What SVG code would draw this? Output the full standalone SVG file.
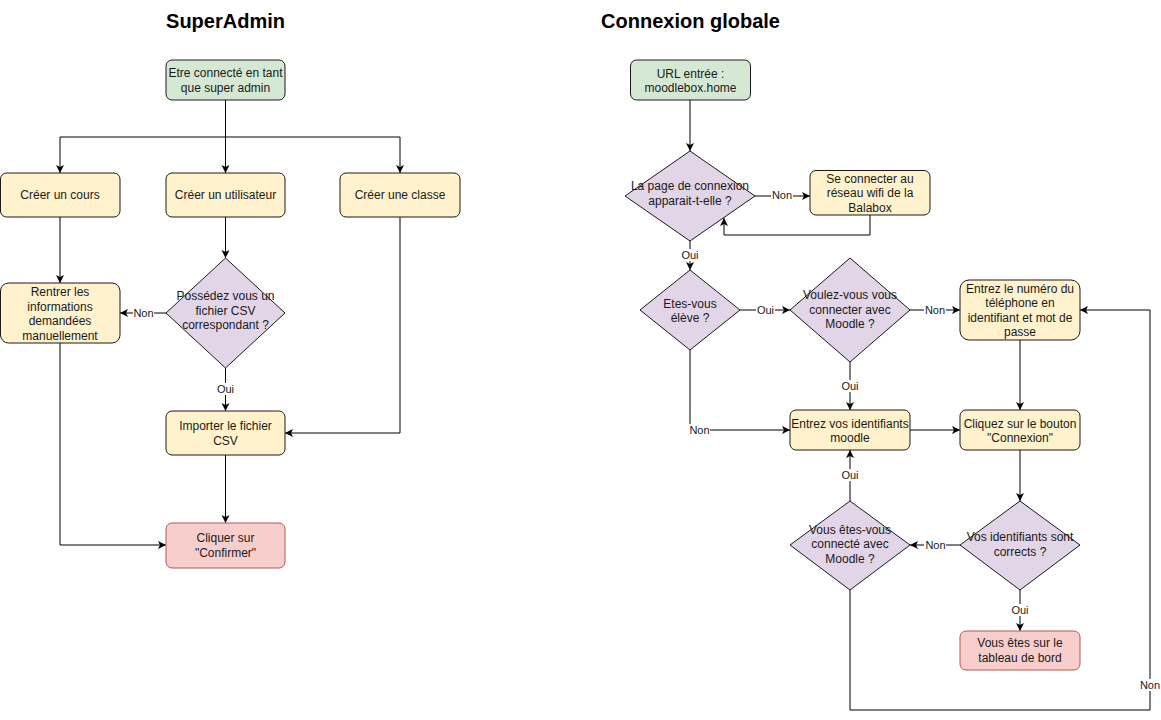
<svg xmlns="http://www.w3.org/2000/svg" width="1161" height="720" viewBox="0 0 1161 720">
<style>
text{font-family:"Liberation Sans",Arial,Helvetica,sans-serif;fill:#1a1a1a}
.t{font-size:12px;text-anchor:middle}
.title{font-size:20px;font-weight:bold;text-anchor:middle;fill:#000}
.lbl{font-size:11px;text-anchor:middle}
.lb{fill:#fff}
.green{fill:#d5e8d4;stroke:#1a1a1a;stroke-width:1}
.yel{fill:#fff2cc;stroke:#1a1a1a;stroke-width:1}
.pur{fill:#e1d5e7;stroke:#1a1a1a;stroke-width:1}
.red{fill:#f8cecc;stroke:#b85450;stroke-width:1}
.e{fill:none;stroke:#000;stroke-width:1;marker-end:url(#arr)}
.n{fill:none;stroke:#000;stroke-width:1}
</style>
<defs>
<marker id="arr" markerUnits="userSpaceOnUse" markerWidth="10" markerHeight="10" refX="8" refY="4" orient="auto">
<path d="M0,0 L8,4 L0,8 L2,4 Z" fill="#000"/>
</marker>
</defs>
<rect width="1161" height="720" fill="#fff"/>
<text class="title" x="225.5" y="28">SuperAdmin</text>
<text class="title" x="690.5" y="28">Connexion globale</text>

<g id="connectors">
<!-- left -->
<path class="n" d="M225.5,100 V137"/>
<path class="e" d="M225.5,137 H60 V173"/>
<path class="e" d="M225.5,137 V173"/>
<path class="e" d="M225.5,137 H400 V173"/>
<path class="e" d="M60,217 V283"/>
<path class="e" d="M225.5,217 V258"/>
<path class="e" d="M166,313 H120"/>
<path class="e" d="M225.5,368 V411"/>
<path class="e" d="M400,217 V433 H285"/>
<path class="e" d="M225.5,455 V523"/>
<path class="e" d="M60,343 V545 H166"/>
<!-- right -->
<path class="e" d="M690,100 V151"/>
<path class="e" d="M755,196 H810"/>
<path class="e" d="M870,215 V235 H724 V218"/>
<path class="e" d="M690,241 V270"/>
<path class="e" d="M740,310 H790"/>
<path class="e" d="M910,310 H960"/>
<path class="e" d="M690,350 V430 H790"/>
<path class="e" d="M850,362 V410"/>
<path class="e" d="M910,430 H960"/>
<path class="e" d="M1020,340 V410"/>
<path class="e" d="M1020,450 V501"/>
<path class="e" d="M960,545 H910"/>
<path class="e" d="M1020,590 V631"/>
<path class="e" d="M850,501 V450"/>
<path class="e" d="M850,590 V710 H1150 V310 H1080"/>
<!-- labels -->
<rect class="lb" x="133" y="307" width="21" height="12"/><text class="lbl" x="143.5" y="317">Non</text>
<rect class="lb" x="216" y="383" width="19" height="12"/><text class="lbl" x="225.5" y="393">Oui</text>
<rect class="lb" x="771" y="190" width="22" height="12"/><text class="lbl" x="782" y="199">Non</text>
<rect class="lb" x="681" y="249" width="19" height="12"/><text class="lbl" x="690" y="259">Oui</text>
<rect class="lb" x="756" y="304" width="19" height="12"/><text class="lbl" x="765.5" y="314">Oui</text>
<rect class="lb" x="924" y="304" width="22" height="12"/><text class="lbl" x="935" y="314">Non</text>
<rect class="lb" x="688" y="424" width="22" height="12"/><text class="lbl" x="699.5" y="434">Non</text>
<rect class="lb" x="841" y="380" width="19" height="12"/><text class="lbl" x="850" y="390">Oui</text>
<rect class="lb" x="841" y="469" width="19" height="12"/><text class="lbl" x="850" y="479">Oui</text>
<rect class="lb" x="924" y="539" width="22" height="12"/><text class="lbl" x="935.5" y="549">Non</text>
<rect class="lb" x="1011" y="604" width="19" height="12"/><text class="lbl" x="1020" y="614">Oui</text>
<rect class="lb" x="1139" y="679" width="22" height="12"/><text class="lbl" x="1150" y="689">Non</text>
</g>

<g id="n_start"><rect class="green" x="166" y="60" width="119" height="40" rx="6"/><text class="t" x="225.5" y="77">Etre connecté en tant</text><text class="t" x="225.5" y="91.5">que super admin</text></g>
<g id="n_cours"><rect class="yel" x="0.5" y="173" width="119.5" height="44" rx="6"/><text class="t" x="60" y="199">Créer un cours</text></g>
<g id="n_user"><rect class="yel" x="166" y="173" width="119" height="44" rx="6"/><text class="t" x="225.5" y="199">Créer un utilisateur</text></g>
<g id="n_classe"><rect class="yel" x="340" y="173" width="120" height="44" rx="6"/><text class="t" x="400" y="199">Créer une classe</text></g>
<g id="n_csv"><path class="pur" d="M225.5,258 L285,313 L225.5,368 L166,313 Z"/><text class="t" x="225.5" y="300">Possédez vous un</text><text class="t" x="225.5" y="314.5">fichier CSV</text><text class="t" x="225.5" y="329">correspondant ?</text></g>
<g id="n_manuel"><rect class="yel" x="0.5" y="283" width="119.5" height="60" rx="8"/><text class="t" x="60" y="296">Rentrer les</text><text class="t" x="60" y="310.5">informations</text><text class="t" x="60" y="325">demandées</text><text class="t" x="60" y="339.5">manuellement</text></g>
<g id="n_import"><rect class="yel" x="166" y="411" width="119" height="44" rx="6"/><text class="t" x="225.5" y="430">Importer le fichier</text><text class="t" x="225.5" y="444.5">CSV</text></g>
<g id="n_confirm"><rect class="red" x="166" y="523" width="119" height="45" rx="6"/><text class="t" x="225.5" y="542">Cliquer sur</text><text class="t" x="225.5" y="556.5">"Confirmer"</text></g>

<g id="n_url"><rect class="green" x="630.5" y="60" width="120" height="40" rx="6"/><text class="t" x="690.5" y="78">URL entrée :</text><text class="t" x="690.5" y="92">moodlebox.home</text></g>
<g id="n_page"><path class="pur" d="M690,151 L755,196 L690,241 L625,196 Z"/><text class="t" x="690" y="190">La page de connexion</text><text class="t" x="690" y="205">apparait-t-elle ?</text></g>
<g id="n_wifi"><rect class="yel" x="810" y="170.5" width="120" height="44.5" rx="6"/><text class="t" x="870" y="182.5">Se connecter au</text><text class="t" x="870" y="197">réseau wifi de la</text><text class="t" x="870" y="211.5">Balabox</text></g>
<g id="n_eleve"><path class="pur" d="M690,270 L740,310 L690,350 L640,310 Z"/><text class="t" x="690" y="307.5">Etes-vous</text><text class="t" x="690" y="321.5">élève ?</text></g>
<g id="n_voulez"><path class="pur" d="M850,258 L910,310 L850,362 L790,310 Z"/><text class="t" x="850" y="299">Voulez-vous vous</text><text class="t" x="850" y="313.5">connecter avec</text><text class="t" x="850" y="328">Moodle ?</text></g>
<g id="n_numero"><rect class="yel" x="960" y="280" width="120" height="60" rx="9"/><text class="t" x="1020" y="292.5">Entrez le numéro du</text><text class="t" x="1020" y="307">téléphone en</text><text class="t" x="1020" y="321.5">identifiant et mot de</text><text class="t" x="1020" y="336">passe</text></g>
<g id="n_ident"><rect class="yel" x="790" y="410" width="120" height="40" rx="6"/><text class="t" x="850" y="427.5">Entrez vos identifiants</text><text class="t" x="850" y="442">moodle</text></g>
<g id="n_bouton"><rect class="yel" x="960" y="410" width="120" height="40" rx="6"/><text class="t" x="1020" y="427.5">Cliquez sur le bouton</text><text class="t" x="1020" y="442">"Connexion"</text></g>
<g id="n_connecte"><path class="pur" d="M850,501 L910,545 L850,590 L790,545 Z"/><text class="t" x="850" y="533.5">Vous êtes-vous</text><text class="t" x="850" y="548">connecté avec</text><text class="t" x="850" y="562.5">Moodle ?</text></g>
<g id="n_corrects"><path class="pur" d="M1020,501 L1080,545 L1020,590 L960,545 Z"/><text class="t" x="1020" y="541">Vos identifiants sont</text><text class="t" x="1020" y="555.5">corrects ?</text></g>
<g id="n_tableau"><rect class="red" x="960" y="631" width="120" height="39" rx="6"/><text class="t" x="1020" y="647">Vous êtes sur le</text><text class="t" x="1020" y="662">tableau de bord</text></g>
</svg>
